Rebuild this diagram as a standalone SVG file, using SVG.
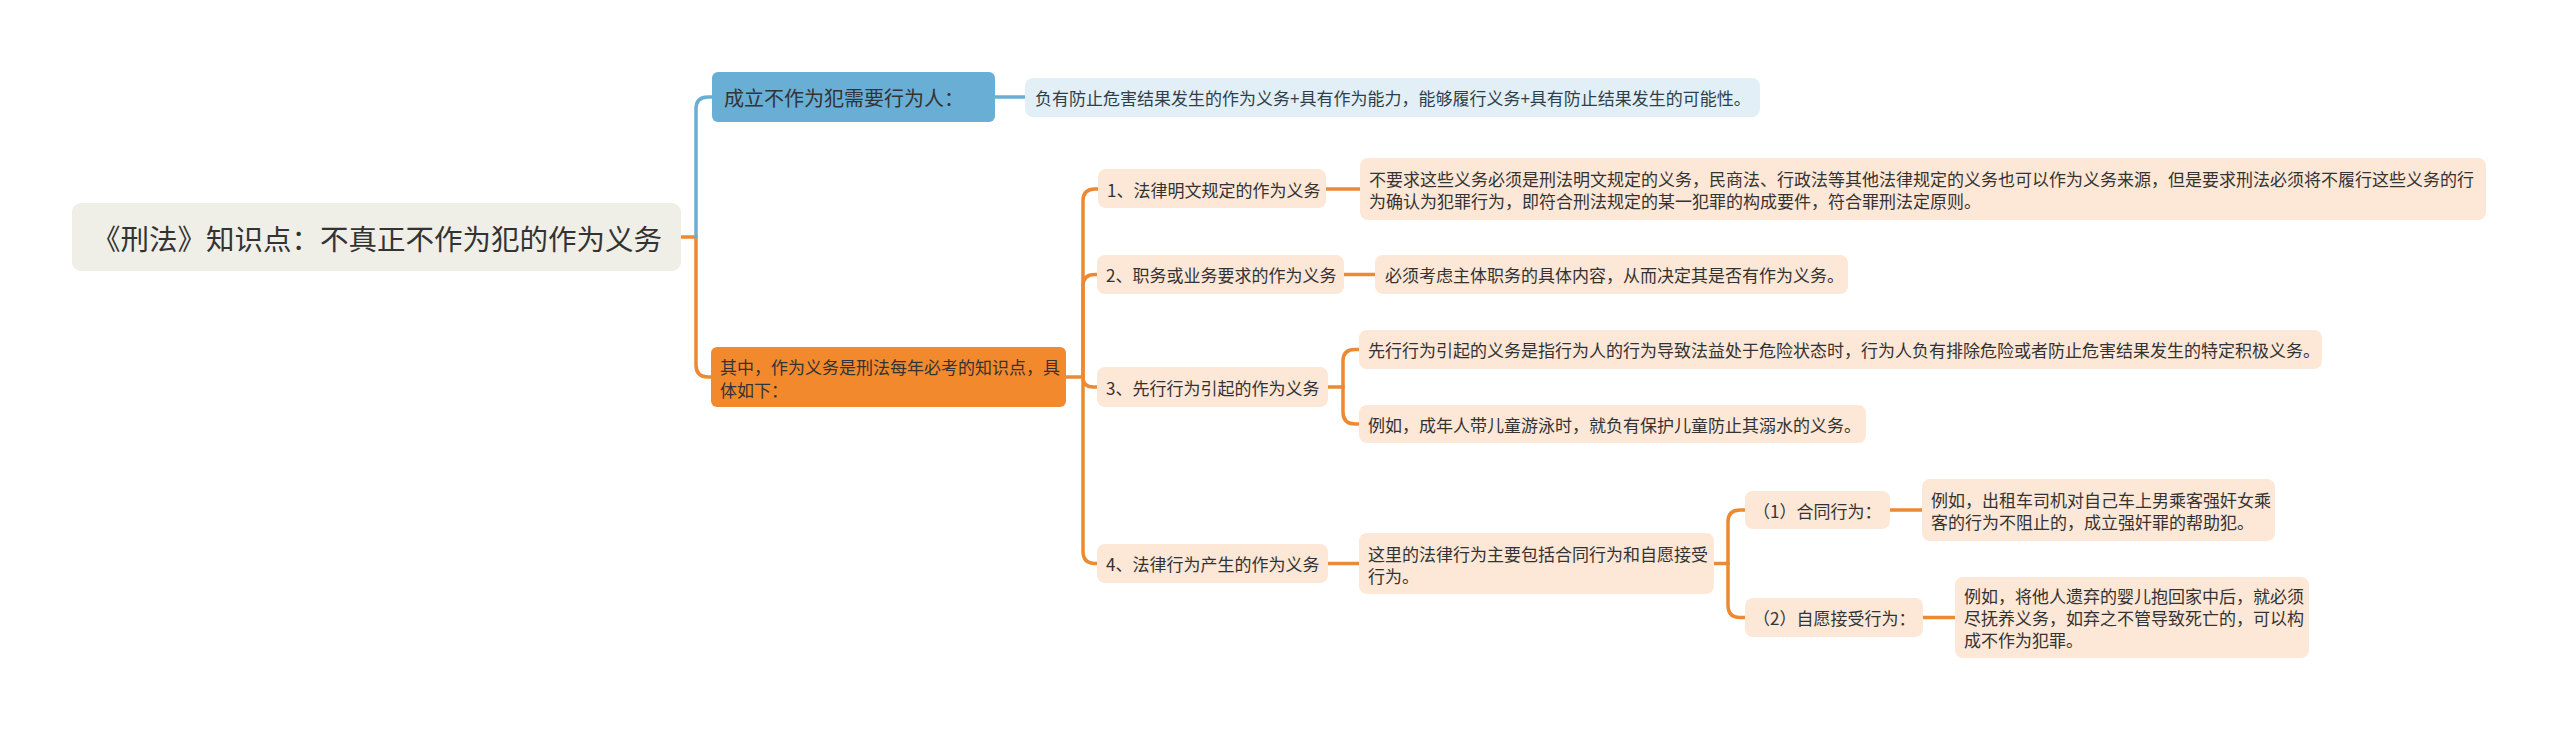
<svg xmlns="http://www.w3.org/2000/svg" width="2560" height="731" viewBox="0 0 2560 731">
<style>
text{font-family:"Noto Sans CJK SC","Noto Sans",sans-serif;dominant-baseline:central;fill:#333333}
.t17{font-size:17px}
.peach{fill:#fde7d6}
.oc{fill:none;stroke:#ec8933;stroke-width:3.5;stroke-linecap:round}
.bc{fill:none;stroke:#6aaed5;stroke-width:3.5;stroke-linecap:round}
</style>
<rect width="2560" height="731" fill="#ffffff"/>
<g id="connectors">
<path class="oc" d="M681 237 H696 V365 Q696 377 708 377 H712"/>
<path class="bc" d="M696 237 V109 Q696 97 708 97 H712"/>
<path class="bc" d="M995 97 H1025"/>
<path class="oc" d="M1066 377 H1083"/>
<path class="oc" d="M1083 377 V201 Q1083 189 1095 189 H1098"/>
<path class="oc" d="M1083 377 V286 Q1083 274.5 1095 274.5 H1097"/>
<path class="oc" d="M1083 377 Q1083 387 1093 387 H1097"/>
<path class="oc" d="M1083 377 V551 Q1083 563.5 1095 563.5 H1097"/>
<path class="oc" d="M1326 189 H1360"/>
<path class="oc" d="M1344 274.5 H1375"/>
<path class="oc" d="M1328 387 H1343"/>
<path class="oc" d="M1343 387 V361 Q1343 349.5 1355 349.5 H1359"/>
<path class="oc" d="M1343 387 V412 Q1343 424 1355 424 H1359"/>
<path class="oc" d="M1328 563.5 H1359"/>
<path class="oc" d="M1714 563.5 H1728"/>
<path class="oc" d="M1728 563.5 V522 Q1728 510 1740 510 H1745"/>
<path class="oc" d="M1728 563.5 V605 Q1728 617.5 1740 617.5 H1745"/>
<path class="oc" d="M1890 510 H1922"/>
<path class="oc" d="M1923 617.5 H1955"/>
</g>
<g id="root">
<rect x="72" y="203" width="609" height="68" rx="9" fill="#efefe8"/>
<text x="92" y="237" font-size="28.5">《刑法》知识点：不真正不作为犯的作为义务</text>
</g>
<g id="n-blue">
<rect x="712" y="72" width="283" height="50" rx="6" fill="#69aed5"/>
<text x="724" y="97" font-size="20">成立不作为犯需要行为人：</text>
</g>
<g id="n-blue-leaf">
<rect x="1025" y="78" width="735" height="39" rx="8" fill="#e2eff7"/>
<text class="t17" x="1035" y="97.5" style="fill:#2f3f4a">负有防止危害结果发生的作为义务+具有作为能力，能够履行义务+具有防止结果发生的可能性。</text>
</g>
<g id="n-orange">
<rect x="711" y="347" width="355" height="60" rx="6" fill="#f28a2d"/>
<text class="t17" x="720" y="366">其中，作为义务是刑法每年必考的知识点，具</text>
<text class="t17" x="720" y="389">体如下：</text>
</g>
<g id="item1">
<rect class="peach" x="1098" y="169" width="228" height="39" rx="8"/>
<text class="t17" x="1107" y="189">1、法律明文规定的作为义务</text>
</g>
<g id="leaf1">
<rect class="peach" x="1360" y="158" width="1126" height="62" rx="8"/>
<text class="t17" x="1369" y="178">不要求这些义务必须是刑法明文规定的义务，民商法、行政法等其他法律规定的义务也可以作为义务来源，但是要求刑法必须将不履行这些义务的行</text>
<text class="t17" x="1369" y="200">为确认为犯罪行为，即符合刑法规定的某一犯罪的构成要件，符合罪刑法定原则。</text>
</g>
<g id="item2">
<rect class="peach" x="1097" y="255" width="247" height="39" rx="8"/>
<text class="t17" x="1106" y="274.5">2、职务或业务要求的作为义务</text>
</g>
<g id="leaf2">
<rect class="peach" x="1375" y="255" width="473" height="39" rx="8"/>
<text class="t17" x="1385" y="274.5">必须考虑主体职务的具体内容，从而决定其是否有作为义务。</text>
</g>
<g id="item3">
<rect class="peach" x="1097" y="367" width="231" height="40" rx="8"/>
<text class="t17" x="1106" y="387">3、先行行为引起的作为义务</text>
</g>
<g id="leaf3a">
<rect class="peach" x="1359" y="330" width="963" height="39" rx="8"/>
<text class="t17" x="1368" y="349.5">先行行为引起的义务是指行为人的行为导致法益处于危险状态时，行为人负有排除危险或者防止危害结果发生的特定积极义务。</text>
</g>
<g id="leaf3b">
<rect class="peach" x="1359" y="405" width="507" height="38" rx="8"/>
<text class="t17" x="1368" y="424">例如，成年人带儿童游泳时，就负有保护儿童防止其溺水的义务。</text>
</g>
<g id="item4">
<rect class="peach" x="1097" y="544" width="231" height="39" rx="8"/>
<text class="t17" x="1106" y="563.5">4、法律行为产生的作为义务</text>
</g>
<g id="leaf4">
<rect class="peach" x="1359" y="533" width="355" height="61" rx="8"/>
<text class="t17" x="1368" y="553">这里的法律行为主要包括合同行为和自愿接受</text>
<text class="t17" x="1368" y="575">行为。</text>
</g>
<g id="sub1">
<rect class="peach" x="1745" y="491" width="145" height="38" rx="8"/>
<text class="t17" x="1753" y="510">（1）合同行为：</text>
</g>
<g id="sub1-leaf">
<rect class="peach" x="1922" y="479" width="353" height="62" rx="8"/>
<text class="t17" x="1931" y="499">例如，出租车司机对自己车上男乘客强奸女乘</text>
<text class="t17" x="1931" y="521">客的行为不阻止的，成立强奸罪的帮助犯。</text>
</g>
<g id="sub2">
<rect class="peach" x="1745" y="598" width="178" height="39" rx="8"/>
<text class="t17" x="1753" y="617.5">（2）自愿接受行为：</text>
</g>
<g id="sub2-leaf">
<rect class="peach" x="1955" y="577" width="354" height="81" rx="8"/>
<text class="t17" x="1964" y="595">例如，将他人遗弃的婴儿抱回家中后，就必须</text>
<text class="t17" x="1964" y="617">尽抚养义务，如弃之不管导致死亡的，可以构</text>
<text class="t17" x="1964" y="639">成不作为犯罪。</text>
</g>
</svg>
